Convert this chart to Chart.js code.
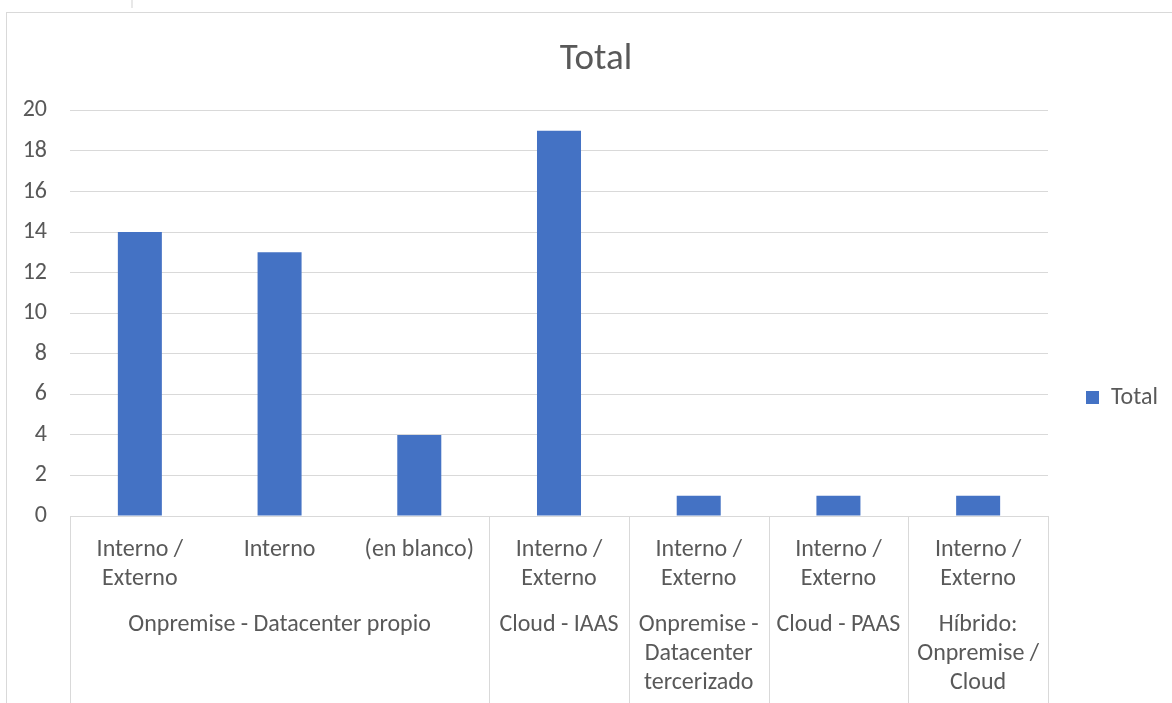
<!DOCTYPE html>
<html>
<head>
<meta charset="utf-8">
<script src="https://cdn.jsdelivr.net/npm/chart.js@4.4.0/dist/chart.umd.min.js"></script>
<style>
body { margin: 0; background: #fff; }
#wrap { position: relative; width: 1172px; height: 703px; overflow: hidden; }
#frame { position: absolute; left: 6px; top: 12px; width: 1200px; height: 720px; border-left: 1px solid #d9d9d9; border-top: 1px solid #d9d9d9; }
#mark { position: absolute; left: 131px; top: 0; width: 2px; height: 8px; background: #e8e8e8; }
canvas { position: absolute; left: 0; top: 0; }
</style>
</head>
<body>
<div id="wrap">
  <div id="frame"></div>
  <div id="mark"></div>
  <canvas id="chart" width="1172" height="703"></canvas>
</div>
<script>
// data
let categories = [
    ["Interno /", "Externo"],
    "Interno",
    "(en blanco)",
    ["Interno /", "Externo"],
    ["Interno /", "Externo"],
    ["Interno /", "Externo"],
    ["Interno /", "Externo"]
];
let totals = [14, 13, 4, 19, 1, 1, 1];
let groupNames = [
    ["Onpremise - Datacenter propio"],
    ["Cloud - IAAS"],
    ["Onpremise -", "Datacenter", "tercerizado"],
    ["Cloud - PAAS"],
    ["Híbrido:", "Onpremise /", "Cloud"]
];
let groupSizes = [3, 1, 1, 1, 1];
let yMax = 20;
let yStep = 2;

let fontFamily = "Carlito, Lato, 'Liberation Sans', sans-serif";
let fontSize = 24;
let textColor = "#595959";
let lineColor = "#d9d9d9";

// second row of the category axis + the separators
let groupAxis = {
    id: 'groupAxis',
    beforeLayout(chart) {
        // legend box as wide as in the original
        let lg = chart.legend;
        if (lg && !lg._fixed) {
            let fit = lg.fit;
            lg.fit = function() { fit.call(this); this.width = 124; };
            lg._fixed = true;
        }
    },
    afterLayout(chart) {
        chart.legend.top += 46;
        chart.legend.bottom += 46;
    },
    afterDraw(chart) {
        let xs = chart.scales.x;
        let ctx = chart.ctx;
        let half = (xs.getPixelForValue(1) - xs.getPixelForValue(0)) / 2;
        let bottom = chart.height;
        ctx.save();
        ctx.strokeStyle = lineColor;
        ctx.lineWidth = 1;
        ctx.fillStyle = textColor;
        ctx.font = fontSize + "px " + fontFamily;
        ctx.textAlign = "center";
        ctx.textBaseline = "middle";

        let x0 = Math.round(xs.getPixelForValue(0) - half) + 0.5;
        ctx.beginPath();
        ctx.moveTo(x0, xs.top);
        ctx.lineTo(x0, bottom);
        ctx.stroke();

        let idx = 0;
        for (let g = 0; g < groupSizes.length; g++) {
            let first = idx;
            let last = idx + groupSizes[g] - 1;
            let right = Math.round(xs.getPixelForValue(last) + half) + 0.5;
            ctx.beginPath();
            ctx.moveTo(right, xs.top);
            ctx.lineTo(right, bottom);
            ctx.stroke();

            let cx = (xs.getPixelForValue(first) + xs.getPixelForValue(last)) / 2;
            let lines = groupNames[g];
            for (let k = 0; k < lines.length; k++) {
                ctx.fillText(lines[k], cx, xs.top + 109 + k * 29);
            }
            idx = last + 1;
        }
        ctx.restore();
    }
};

let ctx = document.getElementById('chart');

let myChart = new Chart(ctx, {
    type: 'bar',
    data: {
        labels: categories,
        datasets: [{
            label: 'Total',
            data: totals,
            backgroundColor: '#4472C4',
            borderWidth: 0,
            categoryPercentage: 1,
            barPercentage: 0.315
        }]
    },
    options: {
        responsive: false,
        animation: false,
        devicePixelRatio: 1,
        layout: {
            padding: { left: 20, right: 0, top: 0, bottom: 0 }
        },
        plugins: {
            title: {
                display: true,
                text: 'Total',
                color: textColor,
                font: { family: fontFamily, size: 37, weight: 'normal', lineHeight: 1.2 },
                padding: { top: 38, bottom: 28 }
            },
            legend: {
                position: 'right',
                labels: {
                    color: textColor,
                    font: { family: fontFamily, size: fontSize },
                    boxWidth: 13,
                    boxHeight: 13,
                    padding: 38
                }
            },
            tooltip: { enabled: false }
        },
        scales: {
            x: {
                grid: { display: false, drawTicks: false },
                border: { display: true, color: lineColor },
                ticks: {
                    color: textColor,
                    font: { family: fontFamily, size: fontSize, lineHeight: 1.21 },
                    padding: 19,
                    maxRotation: 0,
                    autoSkip: false
                },
                afterFit(scale) { scale.height = 187; }
            },
            y: {
                min: 0,
                max: yMax,
                grid: { color: lineColor, drawTicks: false },
                border: { display: false },
                ticks: {
                    stepSize: yStep,
                    color: textColor,
                    font: { family: fontFamily, size: fontSize },
                    padding: 23
                },
                afterFit(scale) { scale.width = 50; }
            }
        }
    },
    plugins: [groupAxis]
});
</script>
</body>
</html>
